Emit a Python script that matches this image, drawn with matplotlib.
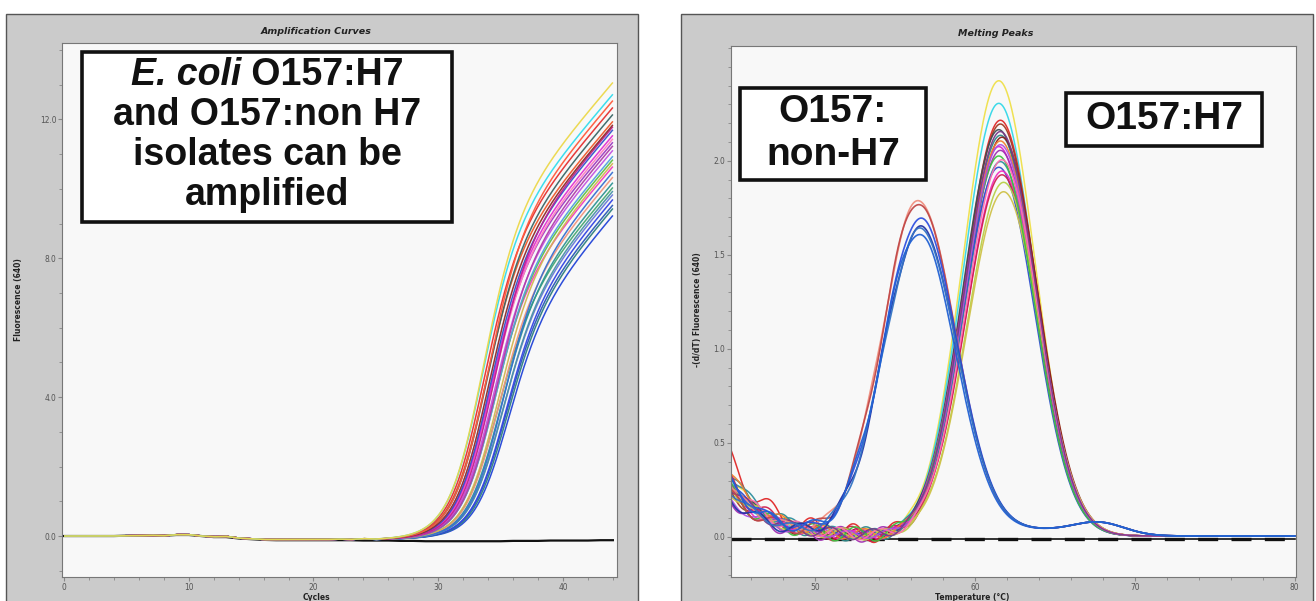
import numpy as np
import matplotlib
matplotlib.use("Agg")
import matplotlib.pyplot as plt
from matplotlib.patches import Rectangle
from matplotlib.ticker import MultipleLocator, FormatStrFormatter, FixedLocator

# ---------------- data ----------------
# Amplification curves (Fluorescence 640 vs cycle)
base_cycles = list(range(45))
baseline = [0.00, 0.00, 0.00, 0.00, 0.00, 0.01, 0.01, 0.02, 0.01, 0.04,
            0.04, 0.00, -0.02, -0.01, -0.06, -0.08, -0.10, -0.10, -0.10, -0.10,
            -0.10, -0.10, -0.09, -0.10, -0.08, -0.10, -0.09, -0.08, -0.07, -0.06,
            -0.05, -0.05, -0.05, -0.05, -0.05, -0.05, -0.05, -0.05, -0.05, -0.05,
            -0.05, -0.05, -0.05, -0.05, -0.05]
neg_ctrl = [0.00, 0.00, 0.00, 0.00, 0.00, 0.01, 0.01, 0.02, 0.01, 0.03,
            0.03, 0.00, -0.03, -0.03, -0.07, -0.09, -0.11, -0.12, -0.12, -0.12,
            -0.12, -0.12, -0.12, -0.12, -0.13, -0.13, -0.13, -0.14, -0.14, -0.15,
            -0.15, -0.15, -0.15, -0.15, -0.15, -0.15, -0.14, -0.14, -0.14, -0.13,
            -0.13, -0.13, -0.13, -0.12, -0.12]
amp_mid = [33.26, 33.20, 33.30, 33.50, 33.65, 33.75, 33.80, 33.70, 34.00, 34.10,
           33.90, 34.40, 34.55, 34.70, 34.90, 35.00, 35.10, 33.37, 33.87, 34.20,
           34.15, 34.40, 34.75, 33.60, 34.05, 34.25, 34.65, 34.90]
amp_end = [13.12, 12.78, 12.40, 12.20, 11.90, 11.76, 11.60, 11.40, 11.17, 10.90,
           10.70, 10.40, 10.24, 10.00, 9.76, 9.50, 9.30, 12.00, 11.50, 11.30,
           11.00, 10.80, 10.55, 12.60, 11.85, 10.10, 9.90, 9.60]
amp_colors = ['#ecd84a', '#33dced', '#e53030', '#3a6666', '#8e2a2a', '#3454cc',
              '#e22fd2', '#9e3cc2', '#c452e2', '#5fc244', '#f23fbf', '#f1947c',
              '#2f9494', '#4a93a6', '#3344e4', '#2e8080', '#2244d8', '#f0582a',
              '#ff7fbf', '#b03fa8', '#55a0e0', '#d2b450', '#3870d0', '#ff5a3c',
              '#c02090', '#48a872', '#6a7ad8', '#2a58b8']

# Melting peaks (-(d/dT) Fluorescence 640 vs temperature)
h7_tm = [61.5, 61.5, 61.6, 61.6, 61.5, 61.6, 61.7, 61.5, 61.6, 61.6,
         61.5, 61.7, 61.7, 61.8, 61.8, 61.6, 61.5, 61.6, 61.7, 61.6]
h7_height = [2.42, 2.30, 2.21, 2.19, 2.16, 2.13, 2.12, 2.07, 2.05, 1.99,
             1.96, 1.94, 1.92, 1.88, 1.83, 2.10, 2.02, 2.08, 2.00, 2.15]
h7_start = [0.30, 0.27, 0.41, 0.24, 0.29, 0.31, 0.22, 0.26, 0.20, 0.33,
            0.28, 0.25, 0.30, 0.27, 0.23, 0.32, 0.24, 0.19, 0.29, 0.26]
h7_wiggle = [0.03, 0.02, 0.05, 0.03, 0.02, 0.04, 0.03, 0.02, 0.04, 0.03,
             0.02, 0.03, 0.04, 0.03, 0.02, 0.03, 0.04, 0.02, 0.03, 0.03]
h7_phase = [0.0, 1.2, 2.5, 3.7, 5.0, 0.6, 1.9, 3.1, 4.4, 5.6,
            0.3, 1.5, 2.8, 4.0, 5.3, 0.9, 2.2, 3.4, 4.7, 5.9]
h7_colors = ['#efe04a', '#33d8e8', '#e02828', '#a33a22', '#404c54', '#2f8a8a',
             '#8c1f1f', '#e021d0', '#a030b2', '#2f8f9f', '#3050d0', '#f030c0',
             '#d02050', '#b8d048', '#cfc24a', '#f08030', '#40c040', '#b050e0',
             '#ff70b0', '#7a3a8a']
nh7_tm = [56.5, 56.5, 56.6, 56.6, 56.6, 56.5]
nh7_height = [1.78, 1.77, 1.69, 1.64, 1.63, 1.61]
nh7_start = [0.26, 0.22, 0.30, 0.20, 0.24, 0.28]
nh7_wiggle = [0.02, 0.03, 0.02, 0.03, 0.02, 0.03]
nh7_phase = [0.4, 1.8, 3.0, 4.2, 5.4, 2.4]
nh7_colors = ['#f09080', '#c04848', '#3050e0', '#2233a8', '#3474c4', '#2262d4']
neg_melt_level = -0.01

# ---------------- figure ----------------
W, H = 1316, 601
fig = plt.figure(figsize=(W / 100, H / 100), dpi=100)
fig.patch.set_facecolor('white')


def fx(px):
    return px / W


def fy(py):
    return 1 - py / H


def frame(x0, y0, x1, y1):
    fig.patches.append(Rectangle((fx(x0), fy(y1)), fx(x1 - x0), (y1 - y0) / H,
                                 transform=fig.transFigure, facecolor='#cbcbcb',
                                 edgecolor='#555555', lw=1.0, zorder=-5))


frame(6, 14, 638, 604)
frame(681, 14, 1313, 604)


def style_axes(ax):
    ax.set_zorder(1)
    ax.set_facecolor('#f8f8f8')
    for s in ax.spines.values():
        s.set_color('#777777')
        s.set_linewidth(0.8)
    ax.tick_params(which='both', direction='out', color='#888888',
                   labelsize=6, labelcolor='#555555', pad=1)
    ax.tick_params(which='major', length=3)
    ax.tick_params(which='minor', length=2)
    ax.tick_params(top=False, right=False)
    for lab in ax.get_xticklabels() + ax.get_yticklabels():
        lab.set_fontstretch('condensed')


# ---------- left: amplification ----------
axL = fig.add_axes([fx(62), fy(577), fx(617 - 62), (577 - 43) / H])
c = np.linspace(0, 44, 881)
base_c = np.interp(c, base_cycles, baseline)
s = 1.4
drift = 0.42
order = np.argsort(amp_end)
for i in order:
    mid, end, col = amp_mid[i], amp_end[i], amp_colors[i]
    A = end - drift * (44 - mid)
    L = 1.0 / (1.0 + np.exp(-(c - mid) / s))
    y = base_c + L * (A + drift * (c - mid))
    axL.plot(c, y, color=col, lw=1.1, alpha=0.95, solid_capstyle='butt')
axL.plot(base_cycles, neg_ctrl, color='#111111', lw=1.6, zorder=1)
axL.set_xlim(-0.16, 44.33)
axL.set_ylim(-1.18, 14.2)
axL.xaxis.set_major_locator(MultipleLocator(10))
axL.xaxis.set_minor_locator(MultipleLocator(2))
axL.yaxis.set_major_locator(MultipleLocator(4))
axL.yaxis.set_minor_locator(MultipleLocator(1))
axL.yaxis.set_major_formatter(FormatStrFormatter('%.1f'))
style_axes(axL)

fig.text(fx(316), fy(31), 'Amplification Curves', ha='center', va='center',
         fontsize=6.8, fontweight='bold', fontstyle='italic', color='#222222',
         family='DejaVu Sans')
fig.text(fx(316), fy(597), 'Cycles', ha='center', va='center', fontsize=5.5,
         fontweight='bold', color='#222222', family='DejaVu Sans')
fig.text(fx(19), fy(300), 'Fluorescence (640)', ha='center', va='center', rotation=90,
         fontsize=5.5, fontweight='bold', color='#222222', family='DejaVu Sans')

# ---------- right: melting peaks ----------
axR = fig.add_axes([fx(731), fy(577), fx(1296 - 731), (577 - 46) / H])
T = np.linspace(44.76, 80.0, 1400)
sig_h7 = 2.25
sig_nh7 = 2.3
tau = 2.3
env = 1.0 / (1.0 + np.exp((T - 56.0) / 0.8))
for i in range(len(h7_tm)):
    y = (h7_height[i] * np.exp(-0.5 * ((T - h7_tm[i]) / sig_h7) ** 2)
         + h7_start[i] * np.exp(-(T - 44.76) / tau)
         + h7_wiggle[i] * np.sin(2 * np.pi * (T - 45) / 2.6 + h7_phase[i]) * env
         + 0.005)
    axR.plot(T, y, color=h7_colors[i], lw=1.1, alpha=0.95)
for i in range(len(nh7_tm)):
    y = (nh7_height[i] * np.exp(-0.5 * ((T - nh7_tm[i]) / sig_nh7) ** 2)
         + nh7_start[i] * np.exp(-(T - 44.76) / tau)
         + nh7_wiggle[i] * np.sin(2 * np.pi * (T - 45) / 2.6 + nh7_phase[i]) * env
         + 0.065 * np.exp(-0.5 * ((T - 67.8) / 1.6) ** 2)
         + 0.03 * np.exp(-0.5 * ((T - 64.0) / 2.5) ** 2) + 0.005)
    axR.plot(T, y, color=nh7_colors[i], lw=1.2, alpha=0.95)
axR.plot([44.76, 80.0], [neg_melt_level, neg_melt_level], color='#111111', lw=1.2, zorder=1)
axR.plot([44.76, 80.0], [neg_melt_level, neg_melt_level], color='#111111', lw=2.4,
         dashes=(6, 4), zorder=1)
axR.set_xlim(44.76, 80.08)
axR.set_ylim(-0.213, 2.61)
axR.xaxis.set_major_locator(MultipleLocator(10))
axR.xaxis.set_minor_locator(MultipleLocator(2))
axR.yaxis.set_major_locator(FixedLocator([0.0, 0.5, 1.0, 1.5, 2.0]))
axR.yaxis.set_minor_locator(MultipleLocator(0.1))
axR.yaxis.set_major_formatter(FormatStrFormatter('%.1f'))
style_axes(axR)

fig.text(fx(996), fy(33), 'Melting Peaks', ha='center', va='center',
         fontsize=6.8, fontweight='bold', fontstyle='italic', color='#222222',
         family='DejaVu Sans')
fig.text(fx(972), fy(597), 'Temperature (\u00b0C)', ha='center', va='center', fontsize=5.5,
         fontweight='bold', color='#222222', family='DejaVu Sans')
fig.text(fx(698), fy(310), '-(d/dT) Fluorescence (640)', ha='center', va='center',
         rotation=90, fontsize=5.5, fontweight='bold', color='#222222', family='DejaVu Sans')

# ---------- annotation boxes ----------
def box(x0, y0, x1, y1):
    fig.patches.append(Rectangle((fx(x0), fy(y1)), fx(x1 - x0), (y1 - y0) / H,
                                 transform=fig.transFigure, facecolor='white',
                                 edgecolor='#111111', lw=2.6, zorder=5))


box(82, 52, 452, 222)
box(740, 88, 926, 180)
box(1066, 93, 1262, 146)

bfont = dict(family='Liberation Sans', fontweight='bold', color='#111111', zorder=6)
fs_left = 27
fig.canvas.draw()
r = fig.canvas.get_renderer()
t1 = fig.text(0, fy(75), 'E. coli', fontsize=fs_left, fontstyle='italic', va='center',
              ha='left', **bfont)
t2 = fig.text(0, fy(75), '\u00a0O157:H7', fontsize=fs_left, va='center', ha='left', **bfont)
w1 = t1.get_window_extent(r).width
w2 = t2.get_window_extent(r).width
start = 267 - (w1 + w2) / 2
t1.set_x(fx(start))
t2.set_x(fx(start + w1))
for txt, yy in [('and O157:non H7', 115), ('isolates can be', 155), ('amplified', 195)]:
    fig.text(fx(267), fy(yy), txt, fontsize=fs_left, va='center', ha='center', **bfont)

fs_right = 28
fig.text(fx(833), fy(112), 'O157:', fontsize=fs_right, va='center', ha='center', **bfont)
fig.text(fx(833), fy(155), 'non-H7', fontsize=fs_right, va='center', ha='center', **bfont)
fig.text(fx(1164), fy(119), 'O157:H7', fontsize=fs_right, va='center', ha='center', **bfont)

fig.savefig('out.png', dpi=100, facecolor='white')
